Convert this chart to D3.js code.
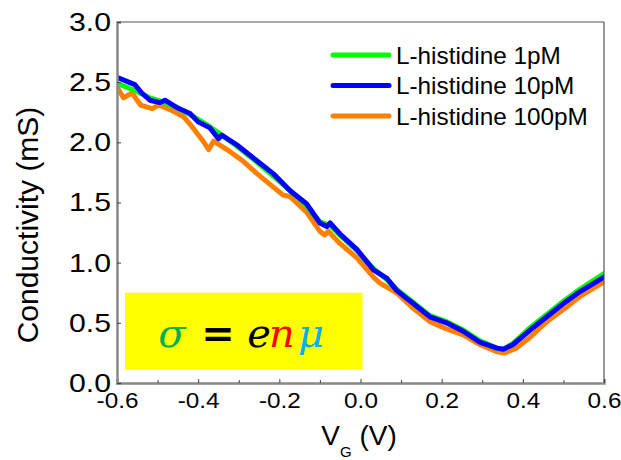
<!DOCTYPE html>
<html><head><meta charset="utf-8">
<script src="https://cdn.jsdelivr.net/npm/d3@7/dist/d3.min.js"></script>
<style>body{margin:0;background:#fff}svg{display:block}</style>
</head><body><svg id="c" width="621" height="460"></svg>
<script>
const seriesNames = ["L-histidine 1pM","L-histidine 10pM","L-histidine 100pM"];
const seriesColors = ["#00ff00","#0000ff","#ff8000"];
const greenV = [-0.600,-0.556,-0.519,-0.482,-0.453,-0.420,-0.400,-0.371,-0.342,-0.305,-0.264,-0.215,-0.174,-0.133,-0.100,-0.075,-0.051,-0.009,0.032,0.065,0.089,0.130,0.171,0.212,0.253,0.294,0.336,0.352,0.376,0.418,0.459,0.500,0.541,0.600];
const greenS = [2.49,2.43,2.37,2.33,2.29,2.23,2.19,2.13,2.06,1.97,1.86,1.72,1.60,1.47,1.34,1.31,1.23,1.10,0.95,0.86,0.78,0.67,0.56,0.51,0.44,0.35,0.29,0.28,0.33,0.46,0.57,0.68,0.78,0.91];
const blueV = [-0.600,-0.556,-0.539,-0.519,-0.494,-0.482,-0.453,-0.420,-0.400,-0.371,-0.350,-0.342,-0.305,-0.264,-0.215,-0.174,-0.133,-0.100,-0.083,-0.075,-0.051,-0.009,0.032,0.065,0.089,0.130,0.171,0.212,0.253,0.294,0.336,0.352,0.376,0.418,0.459,0.500,0.541,0.600];
const blueS = [2.54,2.48,2.41,2.35,2.33,2.35,2.29,2.24,2.17,2.12,2.03,2.06,1.98,1.87,1.74,1.60,1.49,1.33,1.30,1.33,1.24,1.11,0.94,0.87,0.77,0.66,0.55,0.50,0.43,0.34,0.29,0.28,0.32,0.44,0.55,0.66,0.76,0.88];
const orangeV = [-0.600,-0.584,-0.563,-0.542,-0.513,-0.497,-0.468,-0.435,-0.415,-0.390,-0.374,-0.362,-0.329,-0.288,-0.255,-0.223,-0.190,-0.174,-0.133,-0.100,-0.088,-0.079,-0.051,-0.009,0.032,0.048,0.089,0.130,0.171,0.212,0.253,0.294,0.336,0.356,0.384,0.418,0.459,0.500,0.541,0.600];
const orangeS = [2.46,2.37,2.41,2.31,2.28,2.31,2.27,2.21,2.13,2.02,1.94,2.01,1.94,1.84,1.74,1.65,1.56,1.55,1.42,1.26,1.23,1.26,1.16,1.04,0.88,0.83,0.75,0.62,0.51,0.45,0.40,0.32,0.26,0.25,0.29,0.38,0.51,0.61,0.72,0.84];
const xTicks = [-0.6,-0.4,-0.2,0.0,0.2,0.4,0.6];
const xMinor = [-0.5,-0.3,-0.1,0.1,0.3,0.5];
const yTicks = [0.0,0.5,1.0,1.5,2.0,2.5,3.0];
const eqParts = [
  {t:"σ", c:"#00b050", it:true,  dx:0},
  {t:"=", c:"#000000", it:false, dx:46},
  {t:"e", c:"#000000", it:true,  dx:87},
  {t:"n", c:"#ff0000", it:true,  dx:110},
  {t:"μ", c:"#00b0f0", it:true,  dx:139}
];

const svg = d3.select("#c");
const L=117,R=604,T=22,B=383;
const x = d3.scaleLinear().domain([-0.6,0.6]).range([L,R]);
const y = d3.scaleLinear().domain([0,3]).range([B,T]);
const font = "'Liberation Sans', Arial, sans-serif";

svg.append("defs").append("clipPath").attr("id","cp").append("rect")
  .attr("x",L).attr("y",T).attr("width",R-L).attr("height",B-T);

// yellow equation box
const boxX0=-0.58, boxX1=0.005, boxY0=0.75, boxY1=0.11;
svg.append("rect").attr("x",x(boxX0)).attr("y",y(boxY0))
  .attr("width",x(boxX1)-x(boxX0)).attr("height",y(boxY1)-y(boxY0)).attr("fill","#ffff00");
const eqX = 172, eqY = y(0.30);
eqParts.forEach(p=>{
  svg.append("text").attr("x",eqX+p.dx).attr("y",eqY).attr("text-anchor","middle")
    .attr("font-family","'DejaVu Serif','Liberation Serif',serif").attr("font-size",40)
    .attr("font-weight",p.it?"normal":"bold")
    .attr("font-style",p.it?"italic":"normal").attr("fill",p.c).text(p.t);
});

// series
const data = [
  {v:orangeV,s:orangeS,c:seriesColors[2]},
  {v:greenV,s:greenS,c:seriesColors[0]},
  {v:blueV,s:blueS,c:seriesColors[1]}
];
const line = d3.line().x(d=>x(d[0])).y(d=>y(d[1]));
const g = svg.append("g").attr("clip-path","url(#cp)");
data.forEach(d=>{
  g.append("path").datum(d.v.map((v,i)=>[v,d.s[i]]))
    .attr("d",line).attr("fill","none").attr("stroke",d.c)
    .attr("stroke-width",5).attr("stroke-linejoin","round").attr("stroke-linecap","round");
});

// frame
svg.append("line").attr("x1",L).attr("x2",R).attr("y1",T).attr("y2",T).attr("stroke","#555").attr("stroke-width",1.2);
svg.append("line").attr("x1",R).attr("x2",R).attr("y1",T).attr("y2",B).attr("stroke","#555").attr("stroke-width",1.2);

// axes
const xAx = svg.append("g").attr("transform",`translate(0,${B})`)
  .call(d3.axisBottom(x).tickValues(xTicks).tickSize(-4).tickPadding(9)
  .tickFormat(d=>d3.format(".1f")(d).replace("−","-")));
svg.append("g").attr("transform",`translate(0,${B})`)
  .call(d3.axisBottom(x).tickValues(xMinor).tickSize(-3).tickFormat(""))
  .call(a=>a.select(".domain").remove());
const yAx = svg.append("g").attr("transform",`translate(${L},0)`)
  .call(d3.axisLeft(y).tickValues(yTicks).tickSize(-4).tickPadding(6).tickFormat(d3.format(".1f")));
svg.selectAll(".domain").attr("stroke","#888").attr("stroke-width",2.5);
svg.selectAll(".tick line").attr("stroke","#444").attr("stroke-width",1);
function stretch(sel,k){
  sel.each(function(){ const w=this.getComputedTextLength();
    d3.select(this).attr("textLength",w*k).attr("lengthAdjust","spacingAndGlyphs"); });
}
xAx.selectAll("text").attr("font-family",font).attr("font-size",22.5).attr("fill","#000").call(stretch,1.08);
yAx.selectAll("text").attr("font-family",font).attr("font-size",26.5).attr("fill","#000").call(stretch,1.14);

// axis titles
svg.append("text").attr("transform","translate(38,225) rotate(-90)")
  .attr("text-anchor","middle").attr("font-family",font).attr("font-size",30).text("Conductivity (mS)");
const xt = svg.append("text").attr("x",359).attr("y",445).attr("text-anchor","middle")
  .attr("font-family",font).attr("font-size",28);
xt.append("tspan").text("V");
xt.append("tspan").attr("font-size",15).attr("dy",12).text("G");
xt.append("tspan").attr("dy",-12).text(" (V)");

// legend
seriesNames.forEach((n,i)=>{
  const yy = 55 + i*30.5;
  svg.append("line").attr("x1",333).attr("x2",389).attr("y1",yy).attr("y2",yy)
    .attr("stroke",seriesColors[i]).attr("stroke-width",5).attr("stroke-linecap","round");
  svg.append("text").attr("x",396).attr("y",yy+8.5).attr("font-family",font)
    .attr("font-size",24.3).attr("fill","#000").text(n);
});
</script></body></html>
